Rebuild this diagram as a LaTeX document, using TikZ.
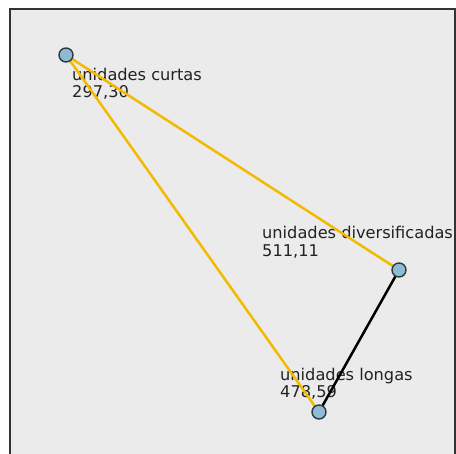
\documentclass[tikz,border=0pt]{standalone}
\usepackage{fontspec}
\setmainfont{DejaVu Sans}
\definecolor{bgfill}{HTML}{EBEBEB}
\definecolor{framecol}{HTML}{333333}
\definecolor{goldline}{HTML}{F2BA00}
\definecolor{vfill}{HTML}{8EBAD3}
\definecolor{vdraw}{HTML}{2E3A40}
\definecolor{txt}{HTML}{222222}
\pgfdeclarelayer{bgpanel}
\pgfdeclarelayer{labels}
\pgfdeclarelayer{edges}
\pgfsetlayers{bgpanel,labels,edges,main}
\begin{document}
\begin{tikzpicture}[x=1pt,y=1pt,
  vert/.style={circle,draw=vdraw,fill=vfill,line width=1.4pt,minimum size=14pt,inner sep=0pt},
  lab/.style={anchor=base west,inner sep=0pt,text=txt,font=\fontsize{16.2}{17}\selectfont},
  gold/.style={draw=goldline,line width=2.5pt},
  dark/.style={draw=black,line width=2.5pt}]
\useasboundingbox (0,0) rectangle (456,454);
\clip (0,0) rectangle (456,454);
\begin{pgfonlayer}{bgpanel}
\fill[white] (0,0) rectangle (456,454);
\filldraw[fill=bgfill,draw=framecol,line width=2pt] (9.5,-10) rectangle (454.5,444.5);
\end{pgfonlayer}
\begin{pgfonlayer}{labels}
\node[lab] (lc1) at (72,373) {unidades curtas};
\node[lab] (lc2) at (72,356) {297,30};
\node[lab] (ld1) at (262,215) {unidades diversificadas};
\node[lab] (ld2) at (262,197) {511,11};
\node[lab] (ll1) at (280,73) {unidades longas};
\node[lab] (ll2) at (280,56) {478,59};
\end{pgfonlayer}
\node[vert] (curtas) at (66,399) {};
\node[vert] (divers) at (399,184) {};
\node[vert] (longas) at (319,42) {};
\begin{pgfonlayer}{edges}
\draw[gold] (curtas.center) -- (divers.center);
\draw[gold] (curtas.center) -- (longas.center);
\draw[dark] (divers.center) -- (longas.center);
\end{pgfonlayer}
\end{tikzpicture}
\end{document}
